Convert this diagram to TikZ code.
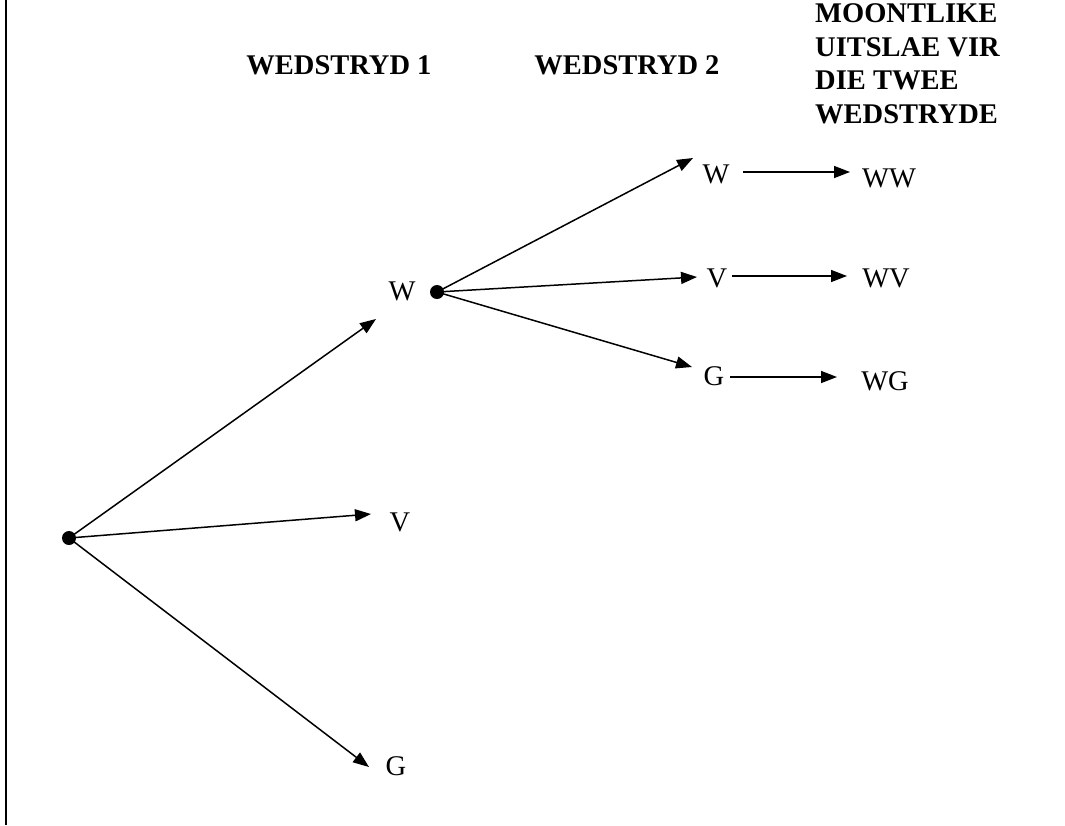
\documentclass[tikz,border=0pt]{standalone}
\usepackage{fontspec}
\setmainfont{Liberation Serif}
\usetikzlibrary{arrows.meta}
\begin{document}
\begin{tikzpicture}[x=1pt,y=-1pt,
  lbl/.style={anchor=base,inner sep=0pt,font=\fontsize{28.5}{33.5}\selectfont},
  hdr/.style={anchor=base,inner sep=0pt,font=\fontsize{28.5}{33.5}\selectfont\bfseries},
  dot/.style={circle,fill=black,inner sep=0pt,minimum size=14pt},
  arr/.style={line width=1.5pt,-{Triangle[length=16pt,width=12pt]}}]
\useasboundingbox (0,0) rectangle (1065,825);
\draw[line width=2.5pt] (6,0) -- (6,825);
% headers
\node[hdr] (h1) at (339,74) {WEDSTRYD 1};
\node[hdr] (h2) at (627,74) {WEDSTRYD 2};
\node[hdr,anchor=base west,align=left] (h3) at (815,123) {MOONTLIKE\\UITSLAE VIR\\DIE TWEE\\WEDSTRYDE};
% dots
\node[dot] (root) at (69,538) {};
\node[dot] (wdot) at (437,292) {};
% first level labels
\node[lbl] (w1) at (402,300) {W};
\node[lbl] (v1) at (400,531) {V};
\node[lbl] (g1) at (396,775) {G};
% second level labels
\node[lbl] (w2) at (716,183) {W};
\node[lbl] (v2) at (717,287) {V};
\node[lbl] (g2) at (714,385) {G};
% outcomes
\node[lbl] (ww) at (889,187) {WW};
\node[lbl] (wv) at (886,287) {WV};
\node[lbl] (wg) at (885,390) {WG};
% arrow end points
\coordinate (tw1) at (376,319);
\coordinate (tv1) at (371,514);
\coordinate (tg1) at (369,767);
\coordinate (tw2) at (693,158);
\coordinate (tv2) at (697,277);
\coordinate (tg2) at (692,367);
\coordinate (sww) at (743,172);
\coordinate (eww) at (850,172);
\coordinate (swv) at (732,276);
\coordinate (ewv) at (847,276);
\coordinate (swg) at (730,377);
\coordinate (ewg) at (837,377);
% connectors
\draw[arr] (root.center) -- (tw1);
\draw[arr] (root.center) -- (tv1);
\draw[arr] (root.center) -- (tg1);
\draw[arr] (wdot.center) -- (tw2);
\draw[arr] (wdot.center) -- (tv2);
\draw[arr] (wdot.center) -- (tg2);
\draw[arr] (sww) -- (eww);
\draw[arr] (swv) -- (ewv);
\draw[arr] (swg) -- (ewg);
\end{tikzpicture}
\end{document}
